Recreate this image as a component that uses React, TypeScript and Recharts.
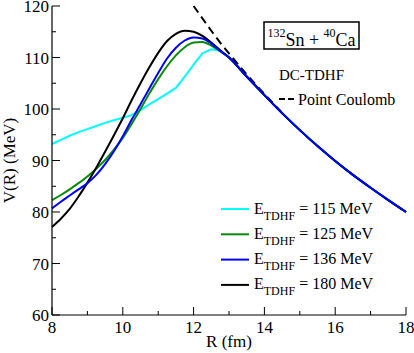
import { LineChart, Line, XAxis, YAxis } from 'recharts';

// R grid (fm) shared by all curves
const rGrid = [
  8, 8.25, 8.5, 8.75, 9, 9.25, 9.5, 9.75, 10, 10.25, 10.5, 10.75, 11, 11.25, 11.5, 11.75,
  12, 12.25, 12.5, 12.75, 13, 13.5, 14, 14.5, 15, 15.5, 16, 16.5, 17, 17.5, 18,
];

// V(R) in MeV
const v115 = [
  93.2, 94.0, 94.8, 95.5, 96.1, 96.7, 97.3, 97.8, 98.3, 98.8, 99.8, 100.9, 101.9, 103.0, 104.1, 106.3,
  108.6, 110.8, 111.6, 111.3, 110.1, 106.3, 102.7, 99.2, 95.9, 92.8, 89.9, 87.2, 84.7, 82.3, 80.0,
];
const v125 = [
  82.3, 83.3, 84.4, 85.6, 86.9, 88.4, 90.1, 92.1, 94.4, 97.1, 100.0, 103.0, 105.8, 108.3, 110.4, 112.0,
  112.9, 113.0, 112.3, 111.2, 110.0, 106.3, 102.7, 99.2, 95.9, 92.8, 89.9, 87.2, 84.7, 82.3, 80.0,
];
const v136 = [
  80.7, 82.0, 83.2, 84.4, 85.6, 87.2, 89.3, 91.8, 94.7, 97.9, 100.9, 104.0, 107.0, 109.8, 111.9, 113.3,
  113.9, 113.7, 112.7, 111.3, 110.0, 106.3, 102.7, 99.2, 95.9, 92.8, 89.9, 87.2, 84.7, 82.3, 80.0,
];
const v180 = [
  77.1, 78.7, 80.6, 83.0, 85.7, 88.6, 91.7, 94.9, 98.2, 101.7, 105.0, 108.1, 110.9, 113.2, 114.6, 115.2,
  115.0, 114.2, 112.9, 111.4, 110.0, 106.3, 102.7, 99.2, 95.9, 92.8, 89.9, 87.2, 84.7, 82.3, 80.0,
];
const coulomb = [
  null, null, null, null, null, null, null, null, null, null, null, null, null, null, null, null,
  120, 117.6, 115.2, 112.9, 110.8, 106.7, 102.9, 99.3, null, null, null, null, null, null, null,
];

const xTicks = [8, 9, 10, 11, 12, 13, 14, 15, 16, 17, 18];
const yTicks = [60, 65, 70, 75, 80, 85, 90, 95, 100, 105, 110, 115, 120];

const legendEnergies = ['115', '125', '136', '180'];
const legendColors = ['#00ffff', '#0a8a0a', '#0000ff', '#000000'];

const FONT = "'Liberation Serif', Tinos, 'DejaVu Serif', serif";

const rows = rGrid.map((r, i) => ({
  r,
  e115: v115[i],
  e125: v125[i],
  e136: v136[i],
  e180: v180[i],
  coul: coulomb[i],
}));

function BottomTick({ x, y, payload }: any) {
  const major = payload.value % 2 === 0;
  return (
    <g>
      <line x1={x} x2={x} y1={y} y2={y - (major ? 8 : 4)} stroke="#000" />
      {major && (
        <text x={x} y={y + 18} textAnchor="middle" style={{ fontSize: 17, fontFamily: FONT }} fill="#000">
          {payload.value}
        </text>
      )}
    </g>
  );
}

function TopTick({ x, y, payload }: any) {
  const major = payload.value % 2 === 0;
  return <line x1={x} x2={x} y1={y} y2={y + (major ? 8 : 4)} stroke="#000" />;
}

function LeftTick({ x, y, payload }: any) {
  const major = payload.value % 10 === 0;
  return (
    <g>
      <line x1={x} x2={x + (major ? 8 : 4)} y1={y} y2={y} stroke="#000" />
      {major && (
        <text x={x - 3} y={y + 6} textAnchor="end" style={{ fontSize: 17, fontFamily: FONT }} fill="#000">
          {payload.value}
        </text>
      )}
    </g>
  );
}

function RightTick({ x, y, payload }: any) {
  const major = payload.value % 10 === 0;
  return <line x1={x} x2={x - (major ? 8 : 4)} y1={y} y2={y} stroke="#000" />;
}

export default function App() {
  return (
    <div style={{ position: 'absolute', left: 0, top: 0, width: 414, height: 353, background: '#fff', fontFamily: FONT }}>
      <LineChart width={414} height={353} data={rows} margin={{ top: 6, right: 8, left: 0, bottom: 0 }}>
        <XAxis
          xAxisId="b"
          dataKey="r"
          type="number"
          domain={[8, 18]}
          ticks={xTicks}
          interval={0}
          height={38}
          tickSize={0}
          tickMargin={0}
          tickLine={false}
          tick={<BottomTick />}
          axisLine={{ stroke: '#000', strokeWidth: 1.2 }}
          label={{ value: 'R (fm)', position: 'insideBottom', offset: 6, style: { fontSize: 17, fontFamily: FONT, fill: '#000' } }}
        />
        <XAxis
          xAxisId="t"
          dataKey="r"
          type="number"
          orientation="top"
          mirror
          domain={[8, 18]}
          ticks={xTicks}
          interval={0}
          height={0}
          tickSize={0}
          tickMargin={0}
          tickLine={false}
          tick={<TopTick />}
          axisLine={{ stroke: '#000', strokeWidth: 1.2 }}
        />
        <YAxis
          yAxisId="l"
          type="number"
          domain={[60, 120]}
          ticks={yTicks}
          interval={0}
          width={52}
          tickSize={0}
          tickMargin={0}
          tickLine={false}
          tick={<LeftTick />}
          axisLine={{ stroke: '#000', strokeWidth: 1.2 }}
          label={{
            value: 'V(R) (MeV)',
            angle: -90,
            position: 'insideLeft',
            offset: 9,
            style: { textAnchor: 'middle', fontSize: 17, fontFamily: FONT, fill: '#000' },
          }}
        />
        <YAxis
          yAxisId="r"
          type="number"
          orientation="right"
          mirror
          domain={[60, 120]}
          ticks={yTicks}
          interval={0}
          width={0}
          tickSize={0}
          tickMargin={0}
          tickLine={false}
          tick={<RightTick />}
          axisLine={{ stroke: '#000', strokeWidth: 1.2 }}
        />
        <Line xAxisId="b" yAxisId="l" type="linear" dataKey="e115" stroke={legendColors[0]} strokeWidth={2} dot={false} isAnimationActive={false} />
        <Line xAxisId="b" yAxisId="l" type="monotone" dataKey="e125" stroke={legendColors[1]} strokeWidth={2} dot={false} isAnimationActive={false} />
        <Line xAxisId="b" yAxisId="l" type="monotone" dataKey="e180" stroke={legendColors[3]} strokeWidth={2} dot={false} isAnimationActive={false} />
        <Line xAxisId="b" yAxisId="l" type="monotone" dataKey="coul" stroke="#000" strokeWidth={2} strokeDasharray="8 5" dot={false} isAnimationActive={false} />
        <Line xAxisId="b" yAxisId="l" type="monotone" dataKey="e136" stroke={legendColors[2]} strokeWidth={2} dot={false} isAnimationActive={false} />
      </LineChart>

      <svg width={414} height={353} style={{ position: 'absolute', left: 0, top: 0, pointerEvents: 'none', fontFamily: FONT }}>
        <rect x={264} y={22} width={95} height={27} fill="none" stroke="#000" strokeWidth={1.5} />
        <text x={311.5} y={46} textAnchor="middle" style={{ fontSize: 18 }} fill="#000">
          <tspan style={{ fontSize: 12 }} dy={-9}>132</tspan>
          <tspan dy={9}>Sn + </tspan>
          <tspan style={{ fontSize: 12 }} dy={-9}>40</tspan>
          <tspan dy={9}>Ca</tspan>
        </text>
        <text x={279} y={80} style={{ fontSize: 15 }} fill="#000">DC-TDHF</text>
        <line x1={279} x2={296} y1={99} y2={99} stroke="#000" strokeWidth={2} strokeDasharray="6 3" />
        <text x={298} y={105} style={{ fontSize: 16 }} fill="#000">Point Coulomb</text>
        {legendEnergies.map((e, i) => {
          const cy = 209 + i * 25.3;
          return (
            <g key={e}>
              <line x1={221} x2={249} y1={cy} y2={cy} stroke={legendColors[i]} strokeWidth={2} />
              <text x={254} y={cy + 4.5} style={{ fontSize: 16 }} fill="#000">
                E
                <tspan style={{ fontSize: 12 }} dy={6}>TDHF</tspan>
                <tspan dy={-6}>{` = ${e} MeV`}</tspan>
              </text>
            </g>
          );
        })}
      </svg>
    </div>
  );
}
